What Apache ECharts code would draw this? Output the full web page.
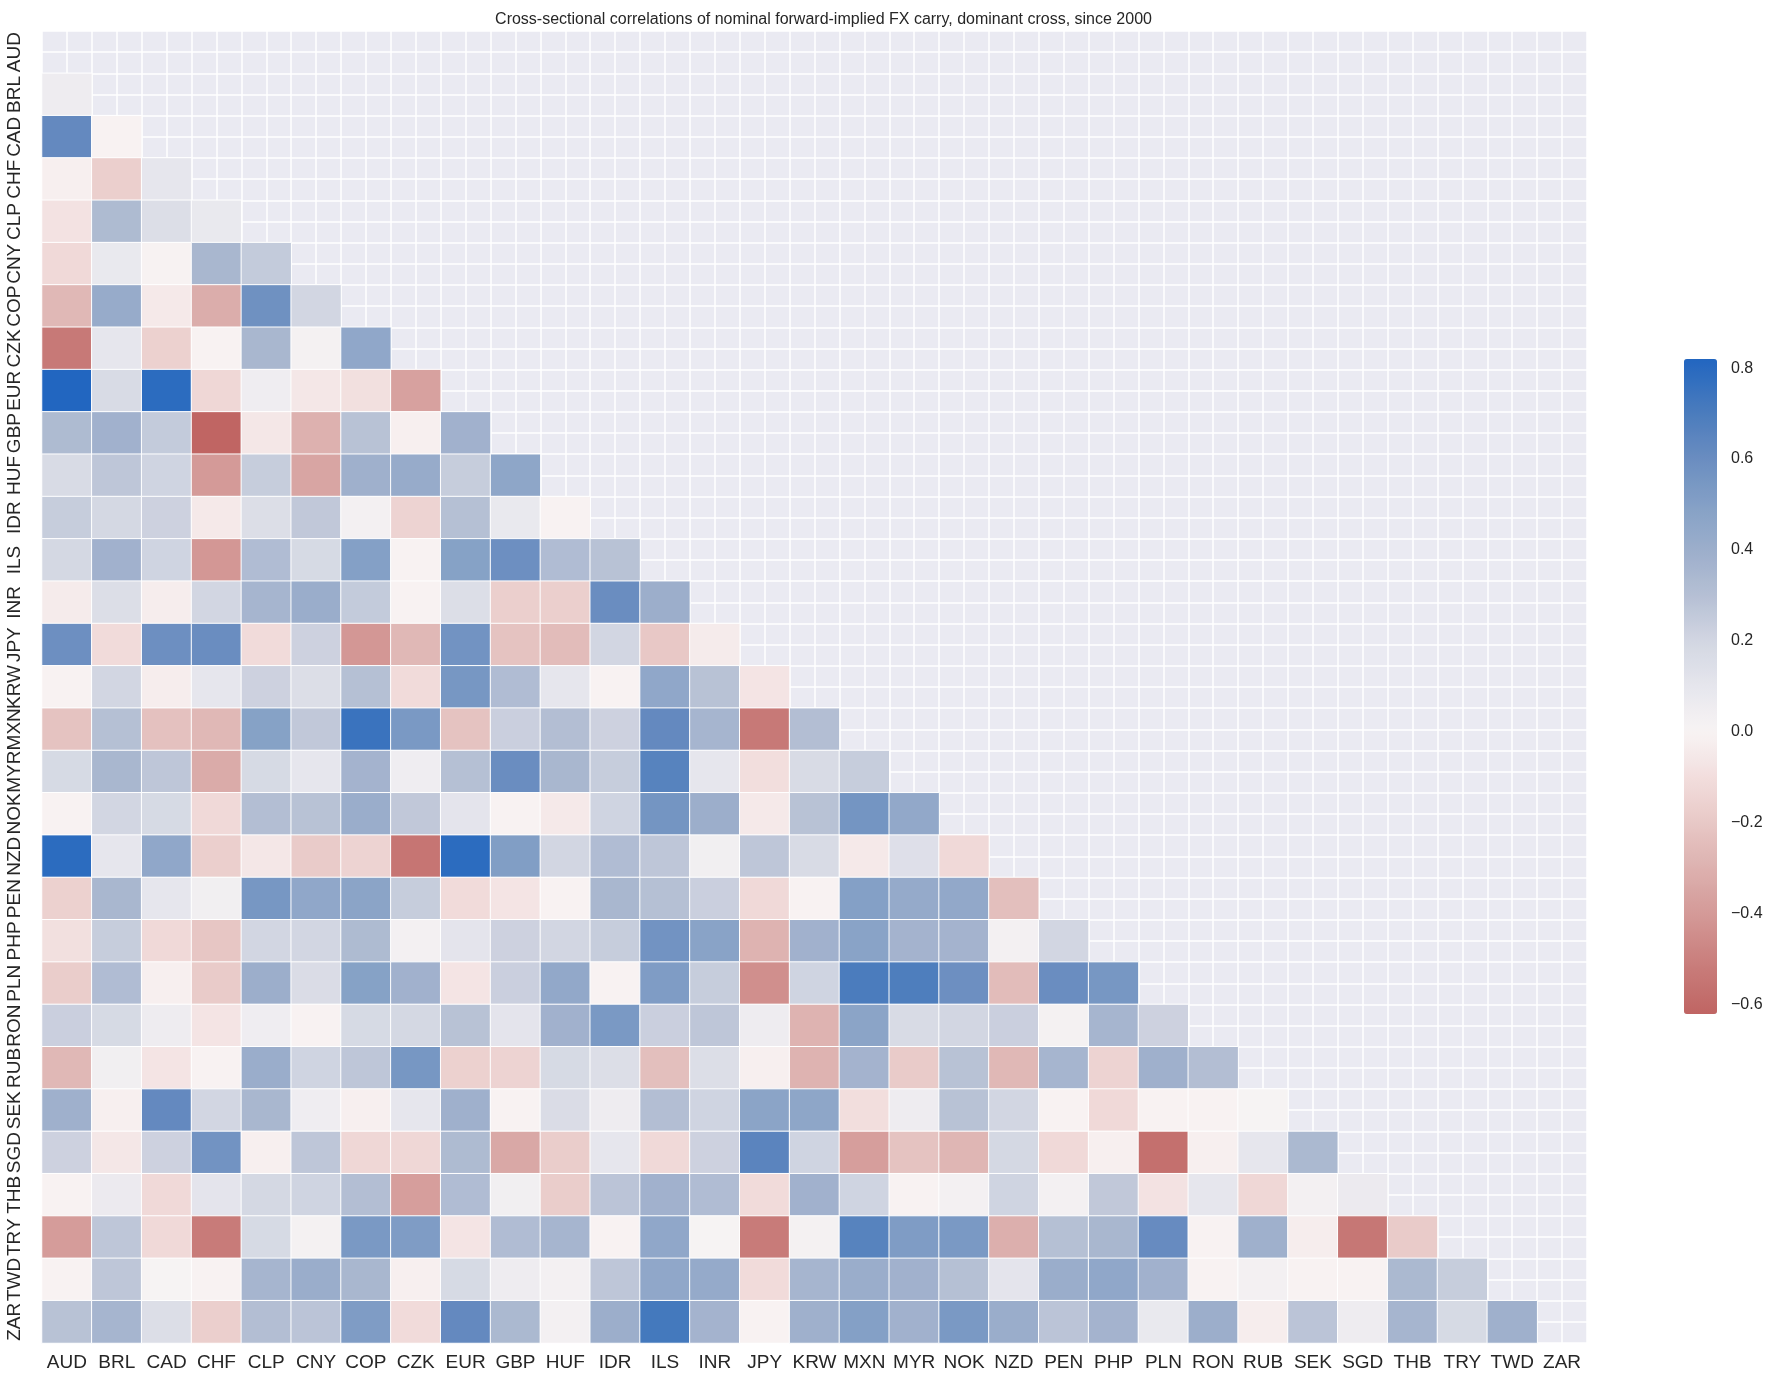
<!DOCTYPE html>
<html>
<head>
<meta charset="utf-8">
<title>FX carry correlations</title>
<script src="https://cdn.jsdelivr.net/npm/echarts@6/dist/echarts.min.js"></script>
<style>
  html, body { margin: 0; padding: 0; background: #fff; }
  #chart { width: 1772px; height: 1384px; }
</style>
</head>
<body>
<div id="chart"></div>
<script>
const currencies = ['AUD', 'BRL', 'CAD', 'CHF', 'CLP', 'CNY', 'COP', 'CZK', 'EUR', 'GBP', 'HUF',
  'IDR', 'ILS', 'INR', 'JPY', 'KRW', 'MXN', 'MYR', 'NOK', 'NZD', 'PEN', 'PHP', 'PLN', 'RON',
  'RUB', 'SEK', 'SGD', 'THB', 'TRY', 'TWD', 'ZAR'];

// lower triangle, one row per currency (columns AUD.. up to the one before it)
const AUD = [];
const BRL = [0.06];
const CAD = [0.62, -0.01];
const CHF = [-0.02, -0.17, 0.1];
const CLP = [-0.08, 0.33, 0.15, 0.08];
const CNY = [-0.12, 0.08, 0.0, 0.35, 0.25];
const COP = [-0.27, 0.42, -0.05, -0.32, 0.58, 0.2];
const CZK = [-0.53, 0.1, -0.16, -0.01, 0.35, 0.02, 0.45];
const EUR = [0.82, 0.17, 0.79, -0.13, 0.05, -0.06, -0.09, -0.37];
const GBP = [0.33, 0.38, 0.25, -0.62, -0.06, -0.3, 0.29, -0.02, 0.38];
const HUF = [0.17, 0.27, 0.21, -0.4, 0.24, -0.35, 0.39, 0.42, 0.24, 0.46];
const IDR = [0.24, 0.19, 0.22, -0.05, 0.15, 0.26, 0.03, -0.15, 0.3, 0.08, -0.01];
const ILS = [0.19, 0.38, 0.21, -0.41, 0.32, 0.18, 0.5, -0.01, 0.49, 0.59, 0.32, 0.29];
const INR = [-0.04, 0.15, -0.03, 0.2, 0.36, 0.41, 0.25, -0.01, 0.15, -0.17, -0.17, 0.6, 0.4];
const JPY = [0.59, -0.11, 0.59, 0.6, -0.11, 0.22, -0.41, -0.27, 0.57, -0.22, -0.25, 0.2, -0.2, -0.04];
const KRW = [-0.01, 0.2, -0.03, 0.1, 0.22, 0.15, 0.3, -0.11, 0.55, 0.32, 0.1, -0.01, 0.45, 0.29, -0.07];
const MXN = [-0.22, 0.3, -0.23, -0.27, 0.49, 0.26, 0.75, 0.54, -0.22, 0.23, 0.31, 0.22, 0.62, 0.36, -0.53, 0.31];
const MYR = [0.18, 0.35, 0.27, -0.33, 0.18, 0.1, 0.37, 0.05, 0.3, 0.6, 0.35, 0.24, 0.66, 0.1, -0.1, 0.17, 0.24];
const NOK = [-0.01, 0.2, 0.18, -0.12, 0.31, 0.29, 0.41, 0.26, 0.11, -0.01, -0.05, 0.21, 0.56, 0.4, -0.05, 0.29, 0.56, 0.44];
const NZD = [0.79, 0.1, 0.45, -0.17, -0.06, -0.19, -0.15, -0.55, 0.79, 0.51, 0.2, 0.32, 0.27, 0.04, 0.27, 0.17, -0.05, 0.14, -0.12];
const PEN = [-0.16, 0.35, 0.1, 0.04, 0.55, 0.45, 0.47, 0.24, -0.11, -0.07, -0.01, 0.35, 0.3, 0.23, -0.12, -0.01, 0.5, 0.43, 0.44, -0.24];
const PHP = [-0.09, 0.24, -0.12, -0.21, 0.2, 0.2, 0.33, 0.03, 0.11, 0.22, 0.2, 0.24, 0.57, 0.48, -0.29, 0.38, 0.48, 0.37, 0.37, 0.03, 0.2];
const PLN = [-0.18, 0.32, -0.02, -0.19, 0.4, 0.16, 0.49, 0.38, -0.07, 0.23, 0.44, -0.01, 0.52, 0.24, -0.44, 0.21, 0.7, 0.69, 0.59, -0.25, 0.6, 0.55];
const RON = [0.23, 0.18, 0.06, -0.07, 0.05, -0.01, 0.18, 0.19, 0.29, 0.11, 0.38, 0.54, 0.23, 0.27, 0.06, -0.29, 0.47, 0.17, 0.2, 0.23, 0.02, 0.36, 0.22];
const RUB = [-0.27, 0.04, -0.07, -0.01, 0.41, 0.21, 0.27, 0.55, -0.16, -0.15, 0.18, 0.15, -0.24, 0.15, -0.02, -0.29, 0.37, -0.19, 0.29, -0.27, 0.36, -0.15, 0.39, 0.31];
const SEK = [0.39, -0.02, 0.62, 0.2, 0.35, 0.05, -0.02, 0.1, 0.39, -0.01, 0.16, 0.06, 0.31, 0.21, 0.47, 0.46, -0.1, 0.06, 0.29, 0.2, -0.01, -0.12, -0.01, -0.01, 0.01];
const SGD = [0.22, -0.06, 0.22, 0.57, -0.02, 0.27, -0.13, -0.13, 0.33, -0.34, -0.18, 0.1, -0.12, 0.22, 0.65, 0.21, -0.38, -0.22, -0.28, 0.19, -0.12, -0.02, -0.57, -0.02, 0.1, 0.34];
const THB = [-0.01, 0.07, -0.12, 0.11, 0.19, 0.21, 0.31, -0.38, 0.32, 0.04, -0.18, 0.28, 0.38, 0.32, -0.11, 0.38, 0.21, -0.01, 0.03, 0.21, 0.03, 0.26, -0.08, 0.1, -0.13, 0.03, 0.07];
const TRY = [-0.39, 0.27, -0.12, -0.52, 0.18, 0.02, 0.54, 0.52, -0.07, 0.32, 0.36, -0.01, 0.45, 0.01, -0.52, 0.02, 0.66, 0.52, 0.54, -0.31, 0.3, 0.35, 0.61, -0.01, 0.39, -0.03, -0.54, -0.19];
const TWD = [-0.01, 0.27, 0.01, -0.01, 0.36, 0.41, 0.35, -0.02, 0.18, 0.06, 0.03, 0.27, 0.45, 0.43, -0.11, 0.36, 0.41, 0.38, 0.3, 0.11, 0.41, 0.45, 0.38, -0.01, 0.03, -0.01, -0.01, 0.34, 0.24];
const ZAR = [0.29, 0.36, 0.15, -0.17, 0.31, 0.28, 0.52, -0.11, 0.62, 0.34, 0.03, 0.4, 0.72, 0.37, -0.01, 0.39, 0.5, 0.38, 0.54, 0.41, 0.28, 0.37, 0.08, 0.4, -0.03, 0.28, 0.06, 0.36, 0.18, 0.39];

const rows = [AUD, BRL, CAD, CHF, CLP, CNY, COP, CZK, EUR, GBP, HUF, IDR, ILS, INR, JPY, KRW,
  MXN, MYR, NOK, NZD, PEN, PHP, PLN, RON, RUB, SEK, SGD, THB, TRY, TWD, ZAR];

const colorbarTicks = [-0.6, -0.4, -0.2, 0.0, 0.2, 0.4, 0.6, 0.8];
const vmin = -0.6205;
const vmax = 0.82;

// diverging palette anchors (value -> colour), sampled off the colour bar
const anchors = [
  [-0.6205, '#c06563'], [-0.5, '#ca807e'], [-0.4, '#d49a98'], [-0.3, '#ddb1af'],
  [-0.2, '#e8c8c6'], [-0.1, '#f2dedd'], [0.0, '#f8f4f4'], [0.1, '#e6e6ed'],
  [0.2, '#d2d6e2'], [0.3, '#b5c0d4'], [0.4, '#9caecb'], [0.5, '#84a0c6'],
  [0.6, '#6a8dc0'], [0.7, '#4b7cbd'], [0.82, '#2266c0']
];

function hex2rgb(h) {
  return [parseInt(h.slice(1, 3), 16), parseInt(h.slice(3, 5), 16), parseInt(h.slice(5, 7), 16)];
}
function colorAt(v) {
  for (let i = 0; i < anchors.length - 1; i++) {
    const [v0, c0] = anchors[i];
    const [v1, c1] = anchors[i + 1];
    if (v <= v1 || i === anchors.length - 2) {
      const t = Math.max(0, Math.min(1, (v - v0) / (v1 - v0)));
      const a = hex2rgb(c0), b = hex2rgb(c1);
      const c = a.map((x, k) => Math.round(x + (b[k] - x) * t));
      return 'rgb(' + c.join(',') + ')';
    }
  }
}
const stops = [];
const nStops = 80;
for (let i = 0; i <= nStops; i++) {
  stops.push(colorAt(vmin + (vmax - vmin) * i / nStops));
}

const heatData = [];
rows.forEach((r, yi) => {
  r.forEach((v, xi) => heatData.push([xi, yi, v]));
});

const FONT = 'Arial, "Liberation Sans", sans-serif';
const gridBox = { left: 42, top: 31, width: 1545, height: 1312 };
const nHalf = currencies.length * 2;

const chart = echarts.init(document.getElementById('chart'), null, { renderer: 'canvas' });

chart.setOption({
  backgroundColor: '#ffffff',
  animation: false,
  title: {
    text: 'Cross-sectional correlations of nominal forward-implied FX carry, dominant cross, since 2000',
    left: gridBox.left + gridBox.width / 2 + 4,
    textAlign: 'center',
    top: 7,
    textStyle: { fontFamily: FONT, fontSize: 16, fontWeight: 'normal', color: '#262626' }
  },
  grid: [
    Object.assign({ show: true, backgroundColor: '#EAEAF2', borderWidth: 0 }, gridBox),
    { left: 1684, top: 359, width: 33, height: 655, show: false }
  ],
  xAxis: [
    {
      gridIndex: 0,
      type: 'category',
      data: currencies,
      position: 'bottom',
      axisLine: { show: false },
      axisTick: { show: false },
      splitLine: { show: false },
      axisLabel: { interval: 0, fontFamily: FONT, fontSize: 19, color: '#262626', margin: 10 }
    },
    {
      gridIndex: 0,
      type: 'value',
      min: 0,
      max: nHalf,
      interval: 1,
      axisLine: { show: false },
      axisTick: { show: false },
      axisLabel: { show: false },
      splitLine: { show: true, lineStyle: { color: '#ffffff', width: 1.5 } }
    },
    { gridIndex: 1, type: 'value', show: false, min: 0, max: 1 }
  ],
  yAxis: [
    {
      gridIndex: 0,
      type: 'category',
      data: currencies,
      inverse: true,
      axisLine: { show: false },
      axisTick: { show: false },
      splitLine: { show: false },
      axisLabel: { interval: 0, rotate: 90, fontFamily: FONT, fontSize: 19, color: '#262626', margin: 18 }
    },
    {
      gridIndex: 0,
      type: 'value',
      min: 0,
      max: nHalf,
      interval: 1,
      axisLine: { show: false },
      axisTick: { show: false },
      axisLabel: { show: false },
      splitLine: { show: true, lineStyle: { color: '#ffffff', width: 1.5 } }
    },
    {
      gridIndex: 1,
      type: 'value',
      position: 'right',
      min: vmin,
      max: vmax,
      axisLine: { show: false },
      splitLine: { show: false },
      axisTick: { show: true, length: 7, customValues: colorbarTicks, lineStyle: { color: '#333333', width: 1.2 } },
      axisLabel: {
        customValues: colorbarTicks,
        margin: 14,
        fontFamily: FONT,
        fontSize: 16,
        color: '#262626',
        formatter: v => v.toFixed(1).replace('-', '\u2212')
      }
    }
  ],
  visualMap: {
    type: 'continuous',
    seriesIndex: 0,
    min: vmin,
    max: vmax,
    calculable: false,
    hoverLink: false,
    orient: 'vertical',
    left: 1684,
    top: 359,
    itemWidth: 33,
    itemHeight: 655,
    padding: 0,
    inRange: { color: stops }
  },
  series: [
    {
      type: 'heatmap',
      xAxisIndex: 0,
      yAxisIndex: 0,
      data: heatData,
      itemStyle: { borderColor: '#ffffff', borderWidth: 1 },
      emphasis: { disabled: true }
    },
    {
      type: 'scatter',
      xAxisIndex: 2,
      yAxisIndex: 2,
      data: [],
      silent: true
    }
  ]
});
</script>
</body>
</html>
